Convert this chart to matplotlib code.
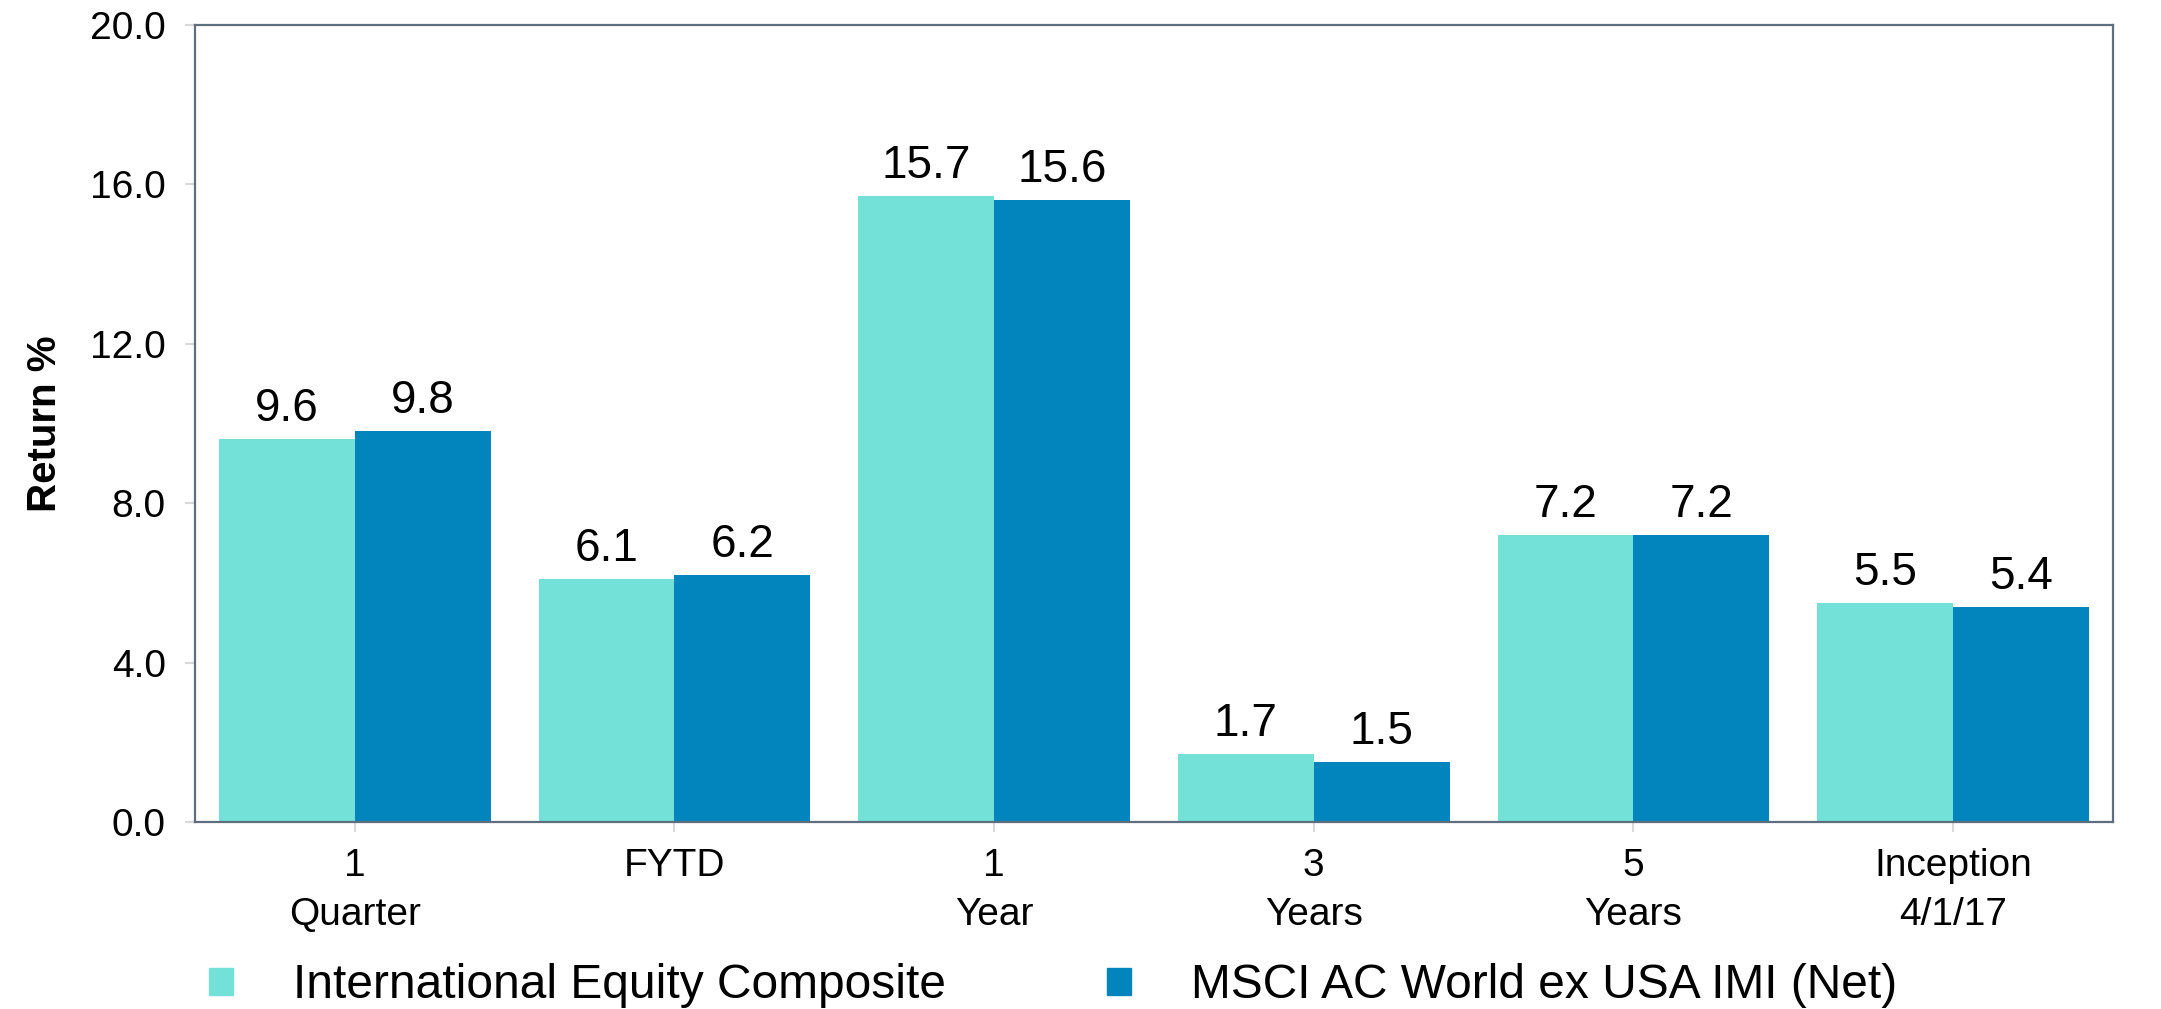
import numpy as np
import matplotlib.pyplot as plt
from matplotlib.patches import Patch

plt.rcParams['font.family'] = ['Liberation Sans', 'DejaVu Sans']

# data
periods = ['1\nQuarter', 'FYTD', '1\nYear', '3\nYears', '5\nYears', 'Inception\n4/1/17']
composite = [9.6, 6.1, 15.7, 1.7, 7.2, 5.5]
benchmark = [9.8, 6.2, 15.6, 1.5, 7.2, 5.4]
series_names = ['International Equity Composite', 'MSCI AC World ex USA IMI (Net)']
yticks = [0.0, 4.0, 8.0, 12.0, 16.0, 20.0]

c_light = '#74E1D9'
c_dark = '#0284BD'
spine_col = '#5E6E7E'
tick_col = '#D9D9D9'

fig = plt.figure(figsize=(21.61, 10.09), dpi=100)
ax = fig.add_axes([0.0902, 0.1853, 0.8876, 0.7899])

x = np.arange(len(periods))
w = 0.425
b1 = ax.bar(x - w / 2, composite, w, color=c_light, label=series_names[0])
b2 = ax.bar(x + w / 2, benchmark, w, color=c_dark, label=series_names[1])

for bars in (b1, b2):
    ax.bar_label(bars, labels=['%.1f' % v for v in bars.datavalues],
                 padding=6, fontsize=33)

ax.set_xlim(-0.5, len(periods) - 0.5)
ax.set_ylim(0, 20)
ax.set_yticks(yticks)
ax.set_yticklabels(['%.1f' % t for t in yticks])
ax.set_xticks(x)
ax.set_xticklabels(periods, linespacing=1.45)

ax.tick_params(axis='both', length=7, width=1.5, color=tick_col, labelsize=28)
ax.tick_params(axis='y', pad=14)
ax.tick_params(axis='x', pad=12)

for s in ax.spines.values():
    s.set_color(spine_col)
    s.set_linewidth(1.6)

ax.set_ylabel('Return %', fontsize=29, fontweight='bold')
ax.yaxis.set_label_coords(-0.068, 0.5)

handles = [Patch(color=c_light), Patch(color=c_dark)]
fig.legend(handles, series_names, loc='center left',
           bbox_to_anchor=(209 / 2161, 1 - 986 / 1009), ncol=2, frameon=False,
           fontsize=34.5, handlelength=0.5, handleheight=0.5,
           handletextpad=1.25, columnspacing=3.36, borderpad=0, borderaxespad=0)

fig.savefig('out.png', dpi=100)
